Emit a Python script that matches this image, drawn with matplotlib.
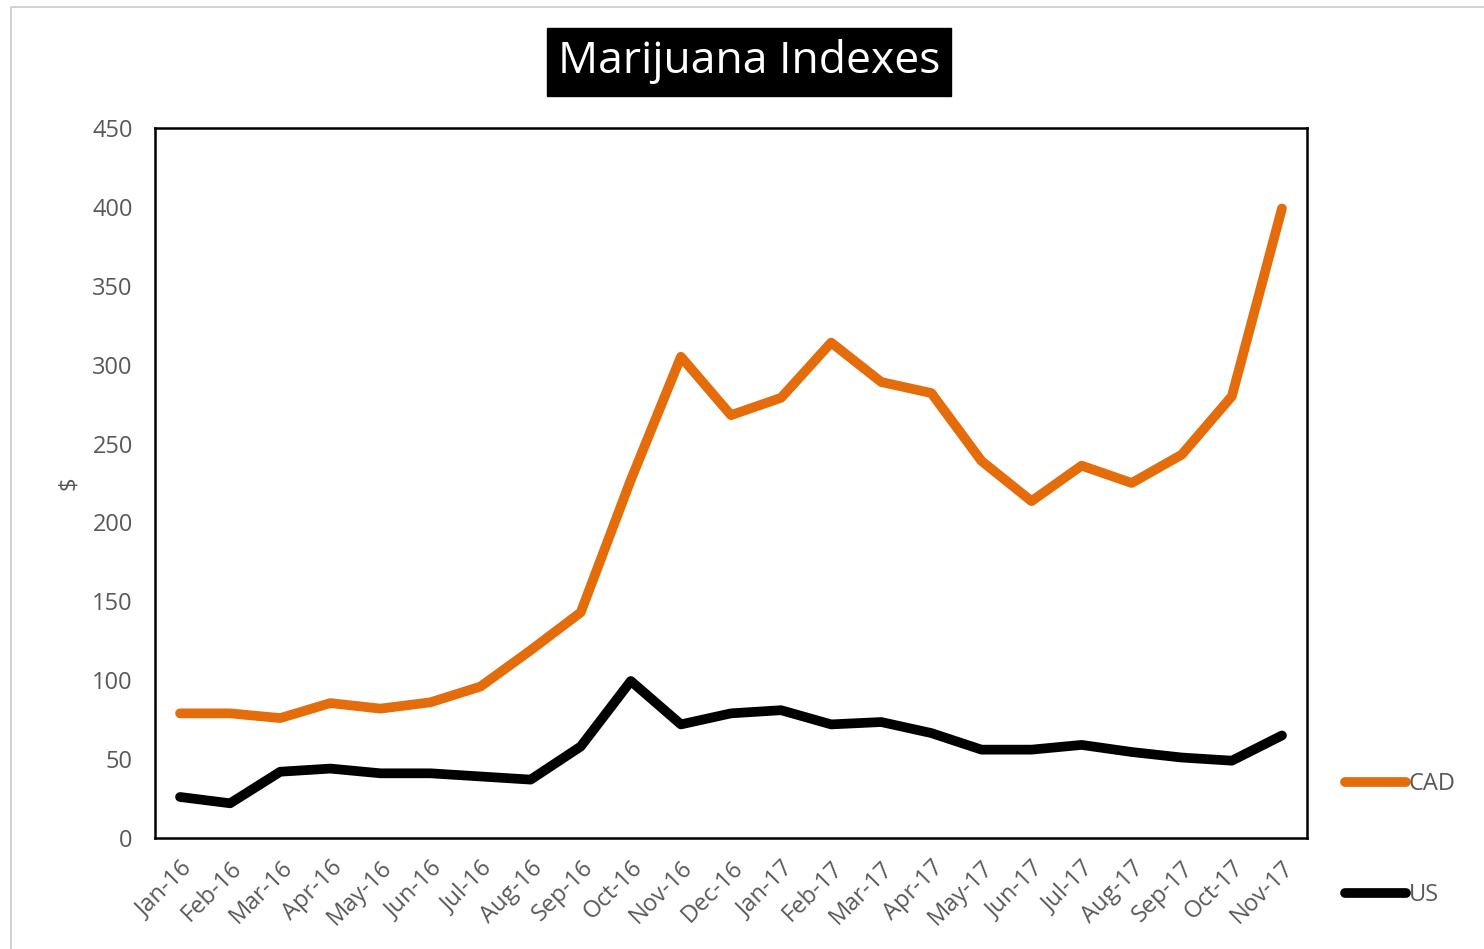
import matplotlib.pyplot as plt
from matplotlib.lines import Line2D

plt.rcParams['font.family'] = ['Open Sans', 'DejaVu Sans']

months = ['Jan-16', 'Feb-16', 'Mar-16', 'Apr-16', 'May-16', 'Jun-16', 'Jul-16',
          'Aug-16', 'Sep-16', 'Oct-16', 'Nov-16', 'Dec-16', 'Jan-17', 'Feb-17',
          'Mar-17', 'Apr-17', 'May-17', 'Jun-17', 'Jul-17', 'Aug-17', 'Sep-17',
          'Oct-17', 'Nov-17']
cad = [79, 79, 76, 85.5, 82, 86, 96, 119, 143, 227, 305, 268, 279, 314,
       289, 282, 239, 213.5, 236, 225, 243, 280, 399]
us = [26, 22, 42, 44, 41, 41, 39, 37, 58, 99.5, 72, 79, 81, 72,
      73.5, 66.5, 56, 56, 59, 54.5, 51, 49, 65]
yticks = [0, 50, 100, 150, 200, 250, 300, 350, 400, 450]

gray = '#595959'
orange = '#E46C0A'

fig = plt.figure(figsize=(14.84, 9.49), dpi=100)
ax = fig.add_axes([155 / 1484, 1 - 838 / 949, 1152 / 1484, 710 / 949])

x = list(range(len(months)))
ax.plot(x, cad, color=orange, lw=7, solid_capstyle='round', solid_joinstyle='round', label='CAD')
ax.plot(x, us, color='black', lw=7, solid_capstyle='round', solid_joinstyle='round', label='US')

ax.set_xlim(-0.5, len(months) - 0.5)
ax.set_ylim(0, 450)
ax.set_yticks(yticks)
ax.set_xticks(x)
ax.set_xticklabels(months, rotation=45, ha='right', rotation_mode='anchor')
ax.tick_params(axis='both', length=0, labelsize=17, labelcolor=gray)
ax.tick_params(axis='y', pad=16)
ax.tick_params(axis='x', pad=13)
for s in ax.spines.values():
    s.set_linewidth(1.8)
    s.set_color('black')

ax.set_ylabel('$', fontsize=17, color=gray)
ax.yaxis.set_label_coords(-0.064, 0.5)

fig.text(749 / 1484, 1 - 62 / 949, 'Marijuana Indexes', fontsize=32, color='white',
         ha='center', va='center',
         bbox=dict(boxstyle='square,pad=0.25', facecolor='black', edgecolor='black'))

ax.legend(loc='upper left', bbox_to_anchor=(1345 / 1484, 1 - 772 / 949),
          bbox_transform=fig.transFigure, frameon=False, fontsize=17,
          handlelength=2.6, handletextpad=0.1, labelspacing=3.7,
          borderpad=0, borderaxespad=0, labelcolor=gray)

# page border from the screenshot
fig.add_artist(Line2D([11 / 1484, 11 / 1484, 1.0], [0.0, 1 - 7 / 949, 1 - 7 / 949],
                      transform=fig.transFigure, color='#c8c8c8', lw=1.2))

fig.savefig('out.png', dpi=100)
